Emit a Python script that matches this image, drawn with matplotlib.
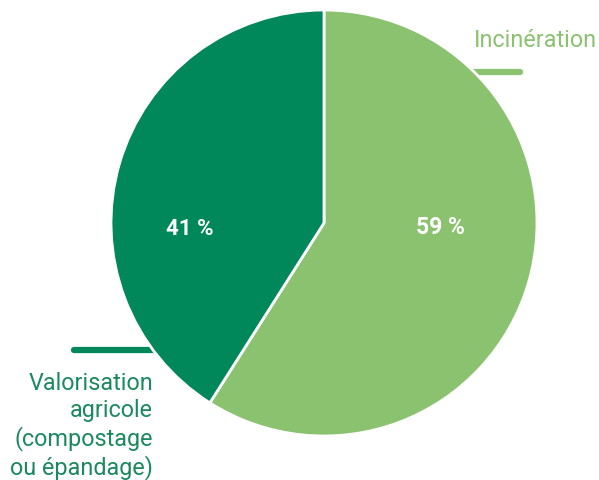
import matplotlib.pyplot as plt

# Data
labels = ['Incinération', 'Valorisation\nagricole\n(compostage\nou épandage)']
values = [59, 41]
pct_labels = ['59 %', '41 %']
colors = ['#8bc270', '#00875a']

W, H = 599, 481
fig = plt.figure(figsize=(W / 100, H / 100), dpi=100)
ax = fig.add_axes([0, 0, 1, 1])

cx, cy, r = 324, H - 224, 213

# leader lines (behind pie)
ax.plot([470, 520], [H - 73, H - 73], color=colors[0], lw=4.5,
        solid_capstyle='round', zorder=1)
ax.plot([74, 160], [H - 351, H - 351], color=colors[1], lw=4.5,
        solid_capstyle='round', zorder=1)

wedges, _ = ax.pie(values, colors=colors, startangle=90, counterclock=False,
                   center=(cx, cy), radius=r, frame=True,
                   wedgeprops=dict(edgecolor='white', linewidth=2))
for w in wedges:
    w.set_zorder(2)
ax.set_xlim(0, W)
ax.set_ylim(0, H)
ax.set_aspect('equal')
ax.axis('off')

# percent labels
ax.text(440, H - 228, pct_labels[0], color='white', fontsize=16.5,
        fontweight='bold', ha='center', va='center', family='Roboto', zorder=3)
ax.text(190, H - 229, pct_labels[1], color='white', fontsize=16,
        fontweight='bold', ha='center', va='center', family='Roboto', zorder=3)

# category labels
ax.text(597, H - 47, labels[0], color=colors[0], fontsize=16.8,
        ha='right', va='baseline', family='Roboto')
ax.text(153, H - 372, labels[1], color='#1a8a5e', fontsize=16.8,
        ha='right', va='top', family='Roboto', linespacing=1.22)

fig.savefig('out.png', dpi=100)
